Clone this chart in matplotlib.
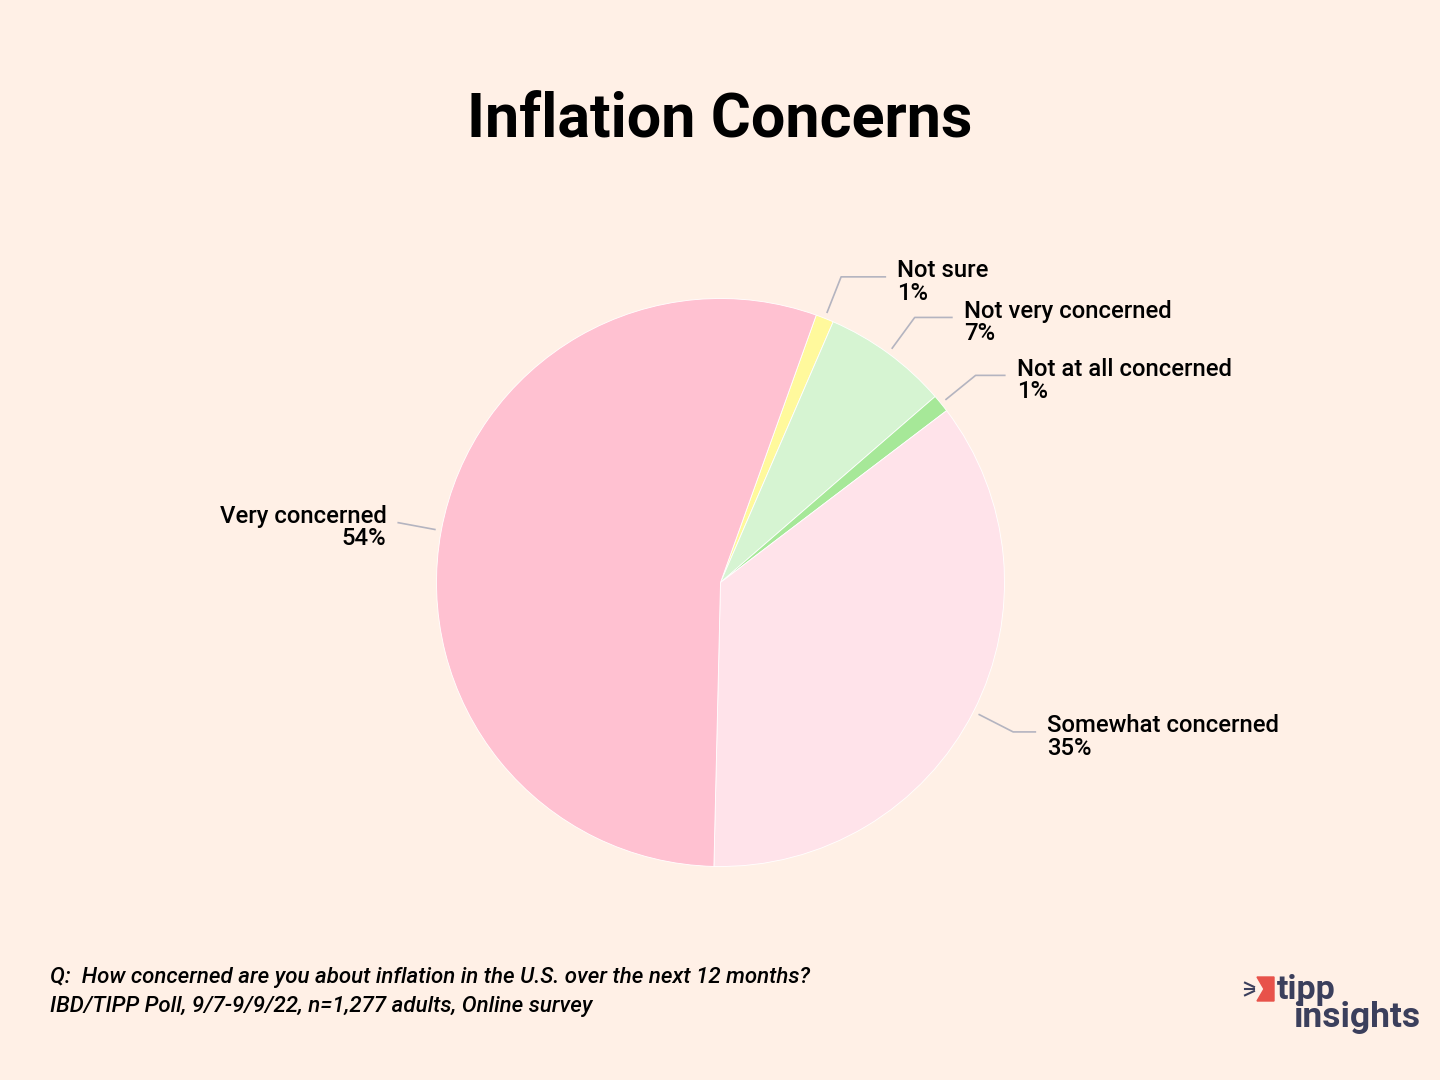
import numpy as np
import matplotlib.pyplot as plt
from matplotlib.patches import Polygon

# poll data (raw percentages, pie normalises them)
labels = ['Not sure', 'Not very concerned', 'Not at all concerned',
          'Somewhat concerned', 'Very concerned']
values = [1, 7, 1, 35, 54]
colors = ['#fff99c', '#d6f4d2', '#a6e898', '#ffe3ea', '#ffc1d1']
# horizontal connector length in px for each label
hlen = [45, 38, 30, 23, 0]

bg = '#fff0e6'
W, H = 1440, 1080

fig = plt.figure(figsize=(14.4, 10.8), dpi=100, facecolor=bg)
ax = fig.add_axes([0, 0, 1, 1])

cx, cy, R = 720.5, H - 582.5, 284
wedges, _ = ax.pie(values, colors=colors, startangle=70.3, counterclock=False,
                   center=(cx, cy), radius=R, frame=True,
                   wedgeprops=dict(edgecolor='white', linewidth=0.6))
ax.set_xlim(0, W)
ax.set_ylim(0, H)
ax.set_aspect('equal')
ax.axis('off')

lab_font = dict(family='Roboto', fontsize=17.2, fontweight='medium', color='black')
for w, lab, v, h in zip(wedges, labels, values, hlen):
    a = np.deg2rad((w.theta1 + w.theta2) / 2)
    x0, y0 = cx + 1.02 * R * np.cos(a), cy + 1.02 * R * np.sin(a)
    x1, y1 = cx + 1.157 * R * np.cos(a), cy + 1.157 * R * np.sin(a)
    side = 1 if np.cos(a) >= 0 else -1
    x2 = x1 + side * h
    ax.plot([x0, x1, x2], [y0, y1, y1], color='#b4b4c0', lw=1.2,
            solid_capstyle='butt')
    ax.text(x2 + side * 11, y1 - 5, f'{lab}\n{v}%',
            ha='left' if side > 0 else 'right', va='center',
            multialignment='left' if side > 0 else 'right',
            linespacing=0.98, **lab_font)

ax.text(720, H - 121, 'Inflation Concerns', ha='center', va='center',
        family='Roboto', fontsize=44, fontweight='semibold', color='black')

foot = dict(family='Roboto', fontsize=16, style='italic', fontweight='medium',
            color='black', ha='left', va='baseline')
ax.text(50, H - 983, 'Q:  How concerned are you about inflation in the U.S. '
        'over the next 12 months?', **foot)
ax.text(50, H - 1012, 'IBD/TIPP Poll, 9/7-9/9/22, n=1,277 adults, Online survey',
        **foot)

# logo
navy = '#3b3f5c'
ax.text(1277, H - 999, 'tipp', family='Roboto', fontsize=24.5,
        fontweight='bold', color=navy, ha='left', va='baseline')
ax.text(1293, H - 1027, 'insights', family='Roboto', fontsize=25.5,
        fontweight='bold', color=navy, ha='left', va='baseline')
ax.add_patch(Polygon([(1257, H - 977), (1274, H - 977), (1274, H - 1001),
                      (1257, H - 1001), (1264, H - 989)],
                     closed=True, color='#e8524a'))
for dy in (-7, 0, 7):
    ax.plot([1245, 1254], [H - 989 + dy * 0.9, H - 989 + dy * 0.3],
            color=navy, lw=1.5)

fig.savefig('out.png', dpi=100, facecolor=bg)
